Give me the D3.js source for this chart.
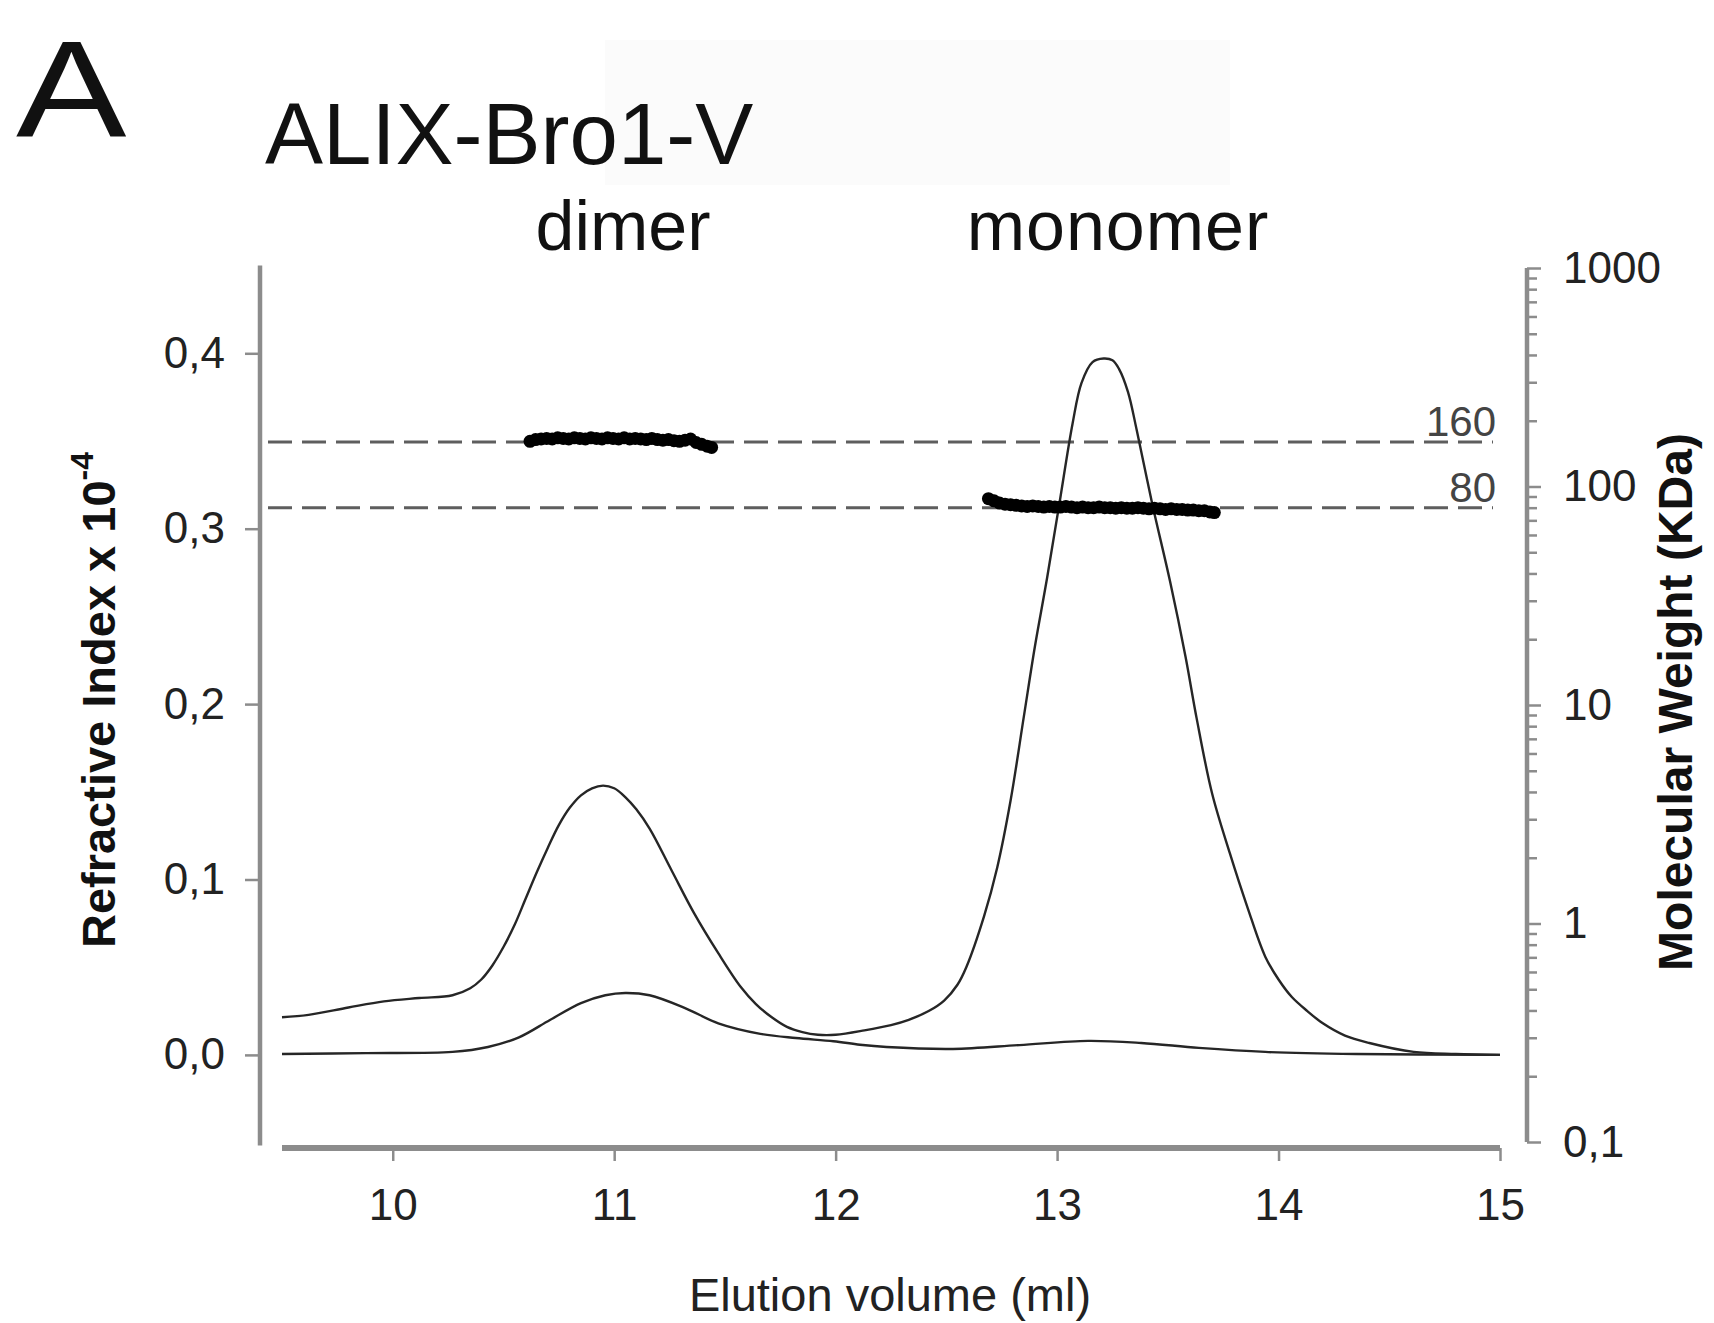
<!DOCTYPE html>
<html>
<head>
<meta charset="utf-8">
<script src="https://cdn.jsdelivr.net/npm/d3@7"></script>
<style>
  html, body { margin: 0; padding: 0; background: #fff; }
  svg { display: block; font-family: "Liberation Sans", Arial, sans-serif; }
</style>
</head>
<body>
<svg id="chart" width="1714" height="1323"></svg>
<script>
// ---------- DATA ----------
const xTicks = [10, 11, 12, 13, 14, 15];
const riTicks = [0.0, 0.1, 0.2, 0.3, 0.4];
const mwMajorTicks = [0.1, 1, 10, 100, 1000];
const mwTickLabels = ["0,1", "1", "10", "100", "1000"];

// Refractive index trace (large)
const riVolume = [9.5, 9.62, 9.8, 9.96, 10.12, 10.27, 10.35, 10.40, 10.45, 10.50, 10.55, 10.60, 10.65, 10.70, 10.75, 10.80, 10.85, 10.90, 10.95, 11.00, 11.05, 11.10, 11.16, 11.26, 11.36, 11.47, 11.57, 11.64, 11.71, 11.78, 11.85, 11.92, 12.0, 12.13, 12.25, 12.33, 12.42, 12.49, 12.55, 12.59, 12.67, 12.73, 12.79, 12.85, 12.90, 12.955, 13.01, 13.07, 13.11, 13.16, 13.21, 13.25, 13.28, 13.32, 13.36, 13.43, 13.51, 13.58, 13.63, 13.70, 13.78, 13.86, 13.94, 14.00, 14.06, 14.13, 14.20, 14.30, 14.41, 14.61, 14.8, 15.0];
const riSignal = [0.0215, 0.0228, 0.027, 0.0305, 0.0324, 0.034, 0.038, 0.043, 0.051, 0.0615, 0.074, 0.089, 0.104, 0.118, 0.131, 0.141, 0.148, 0.152, 0.1535, 0.152, 0.147, 0.140, 0.129, 0.105, 0.081, 0.058, 0.039, 0.029, 0.0216, 0.016, 0.013, 0.0115, 0.0115, 0.014, 0.017, 0.020, 0.025, 0.031, 0.040, 0.050, 0.079, 0.107, 0.145, 0.193, 0.233, 0.272, 0.314, 0.360, 0.383, 0.395, 0.397, 0.396, 0.391, 0.378, 0.356, 0.314, 0.270, 0.227, 0.192, 0.149, 0.115, 0.084, 0.056, 0.043, 0.033, 0.025, 0.018, 0.011, 0.0068, 0.0017, 0.0005, 0.0];

// Second detector trace (small)
const lsVolume = [9.5, 9.88, 10.27, 10.43, 10.57, 10.71, 10.85, 10.96, 11.05, 11.16, 11.32, 11.47, 11.66, 11.82, 11.99, 12.11, 12.23, 12.53, 12.83, 13.14, 13.38, 13.64, 13.94, 14.35, 15.0];
const lsSignal = [0.0005, 0.001, 0.0017, 0.0045, 0.010, 0.0199, 0.0295, 0.034, 0.0353, 0.034, 0.0267, 0.018, 0.012, 0.0096, 0.0078, 0.0058, 0.0045, 0.0034, 0.0056, 0.008, 0.0068, 0.004, 0.0017, 0.0005, 0.0];

// Molar mass points (kDa)
const dimerVolume = [10.62, 10.645, 10.67, 10.695, 10.72, 10.745, 10.77, 10.795, 10.82, 10.845, 10.87, 10.895, 10.92, 10.945, 10.97, 10.995, 11.02, 11.045, 11.07, 11.095, 11.12, 11.145, 11.17, 11.195, 11.22, 11.245, 11.27, 11.295, 11.32, 11.345, 11.37, 11.395, 11.42, 11.44];
const dimerMW = [161, 164, 165, 166, 165, 167, 166, 165, 167, 166, 165, 167, 166, 165, 167, 166, 165, 167, 165, 166, 165, 164, 166, 164, 163, 164, 162, 161, 163, 165, 159, 156, 153, 151];
const monomerVolume = [12.69, 12.715, 12.74, 12.765, 12.79, 12.815, 12.84, 12.865, 12.89, 12.915, 12.94, 12.965, 12.99, 13.015, 13.04, 13.065, 13.09, 13.115, 13.14, 13.165, 13.19, 13.215, 13.24, 13.265, 13.29, 13.315, 13.34, 13.365, 13.39, 13.415, 13.44, 13.465, 13.49, 13.515, 13.54, 13.565, 13.59, 13.615, 13.64, 13.665, 13.69, 13.71];
const monomerMW = [88, 86, 84, 83, 82.5, 82, 81.5, 81, 81.5, 81, 80.5, 81, 80.5, 80.5, 81, 80.5, 80, 80.5, 80, 80, 80.5, 80, 80, 79.5, 80, 79.5, 79.5, 80, 79.5, 79, 79.5, 79, 78.5, 79, 78.5, 78.5, 78, 78, 77.5, 77.5, 76.5, 76];

// Reference lines (kDa)
const refLines = [160, 80];
const refLabels = ["160", "80"];

// ---------- LAYOUT ----------
const svg = d3.select("#chart");
const x = d3.scaleLinear().domain([9.5, 15]).range([282, 1500]);
const y = d3.scaleLinear().domain([-0.05, 0.45]).range([1142.6, 265.6]);
const yMW = d3.scaleLog().domain([0.1, 1000]).range([1142, 268]);

const axisColor = "#8c8c8c";
const textColor = "#222";

// faint panel behind title
svg.append("rect").attr("x", 605).attr("y", 40).attr("width", 625).attr("height", 145).attr("fill", "#fbfbfb");

// Panel letter and titles
svg.append("text").attr("transform", "translate(16,137) scale(1.2,1)").attr("font-size", 138).attr("fill", "#111").text("A");
svg.append("text").attr("x", 265).attr("y", 164).attr("font-size", 87).attr("fill", "#111").text("ALIX-Bro1-V");
svg.append("text").attr("x", 623).attr("y", 250).attr("text-anchor", "middle").attr("font-size", 70).attr("fill", "#111").text("dimer");
svg.append("text").attr("x", 1118).attr("y", 250).attr("text-anchor", "middle").attr("font-size", 70).attr("letter-spacing", 1).attr("fill", "#111").text("monomer");

// ---------- AXES ----------
// Left axis
const gL = svg.append("g").attr("transform", "translate(260,0)")
  .call(d3.axisLeft(y).tickValues(riTicks).tickSize(15).tickPadding(20)
    .tickFormat(d => d.toFixed(1).replace(".", ",")));
gL.select(".domain").remove();
gL.selectAll(".tick line").attr("stroke", axisColor).attr("stroke-width", 2.5);
gL.selectAll(".tick text").attr("font-size", 44).attr("fill", textColor).attr("font-family", "Liberation Sans, Arial, sans-serif");
svg.append("line").attr("x1", 260).attr("x2", 260).attr("y1", y(0.45)).attr("y2", y(-0.05) + 3)
  .attr("stroke", axisColor).attr("stroke-width", 4.5);

// Bottom axis
const gB = svg.append("g").attr("transform", "translate(0,1148)")
  .call(d3.axisBottom(x).tickValues(xTicks).tickSize(13).tickPadding(28).tickFormat(d3.format("d")));
gB.select(".domain").remove();
gB.selectAll(".tick line").attr("stroke", axisColor).attr("stroke-width", 2.5);
gB.selectAll(".tick text").attr("font-size", 44).attr("fill", textColor).attr("font-family", "Liberation Sans, Arial, sans-serif");
svg.append("line").attr("x1", x(9.5)).attr("x2", x(15)).attr("y1", 1148).attr("y2", 1148)
  .attr("stroke", axisColor).attr("stroke-width", 6);

// Right axis (log)
const minorTicks = [];
[0.1, 1, 10, 100].forEach(dec => { for (let k = 2; k <= 9; k++) minorTicks.push(dec * k); });
const gR = svg.append("g").attr("transform", "translate(1527,0)");
gR.call(d3.axisRight(yMW).tickValues(minorTicks).tickSize(10).tickFormat(""));
gR.select(".domain").remove();
gR.selectAll(".tick line").attr("stroke", axisColor).attr("stroke-width", 2.5);
const gR2 = svg.append("g").attr("transform", "translate(1527,0)")
  .call(d3.axisRight(yMW).tickValues(mwMajorTicks).tickSize(14).tickPadding(22)
    .tickFormat((d, i) => mwTickLabels[i]));
gR2.select(".domain").remove();
gR2.selectAll(".tick line").attr("stroke", axisColor).attr("stroke-width", 2.5);
gR2.selectAll(".tick text").attr("font-size", 44).attr("fill", textColor).attr("font-family", "Liberation Sans, Arial, sans-serif");
svg.append("line").attr("x1", 1527).attr("x2", 1527).attr("y1", yMW(1000)).attr("y2", yMW(0.1))
  .attr("stroke", axisColor).attr("stroke-width", 4.5);

// Axis titles
const lt = svg.append("text").attr("transform", "translate(115,700) rotate(-90)")
  .attr("text-anchor", "middle").attr("font-size", 47).attr("font-weight", "bold").attr("fill", "#111");
lt.append("tspan").text("Refractive Index x 10");
lt.append("tspan").attr("dy", -22).attr("font-size", 32).text("-4");

svg.append("text").attr("transform", "translate(1692,702) rotate(-90)")
  .attr("text-anchor", "middle").attr("font-size", 48).attr("font-weight", "bold").attr("fill", "#111")
  .text("Molecular Weight (KDa)");

svg.append("text").attr("x", 890).attr("y", 1311).attr("text-anchor", "middle")
  .attr("font-size", 47).attr("fill", textColor).text("Elution volume (ml)");

// ---------- REFERENCE LINES ----------
refLines.forEach((v, i) => {
  svg.append("line").attr("x1", 268).attr("x2", 1493).attr("y1", yMW(v)).attr("y2", yMW(v))
    .attr("stroke", "#5e5e5e").attr("stroke-width", 3).attr("stroke-dasharray", "24,10");
  svg.append("text").attr("x", 1496).attr("y", yMW(v) - 6).attr("text-anchor", "end")
    .attr("font-size", 42).attr("fill", "#444").text(refLabels[i]);
});

// ---------- TRACES ----------
const line = d3.line().x(d => x(d[0])).y(d => y(d[1])).curve(d3.curveCatmullRom.alpha(0.5));
svg.append("path").datum(riVolume.map((v, i) => [v, riSignal[i]]))
  .attr("d", line).attr("fill", "none").attr("stroke", "#262626").attr("stroke-width", 2.4);
svg.append("path").datum(lsVolume.map((v, i) => [v, lsSignal[i]]))
  .attr("d", line).attr("fill", "none").attr("stroke", "#262626").attr("stroke-width", 2.4);

// ---------- MOLAR MASS POINTS ----------
const mwPts = dimerVolume.map((v, i) => [v, dimerMW[i]])
  .concat(monomerVolume.map((v, i) => [v, monomerMW[i]]));
svg.append("g").selectAll("circle").data(mwPts).join("circle")
  .attr("cx", d => x(d[0])).attr("cy", d => yMW(d[1])).attr("r", 6.5).attr("fill", "#000");
</script>
</body>
</html>
